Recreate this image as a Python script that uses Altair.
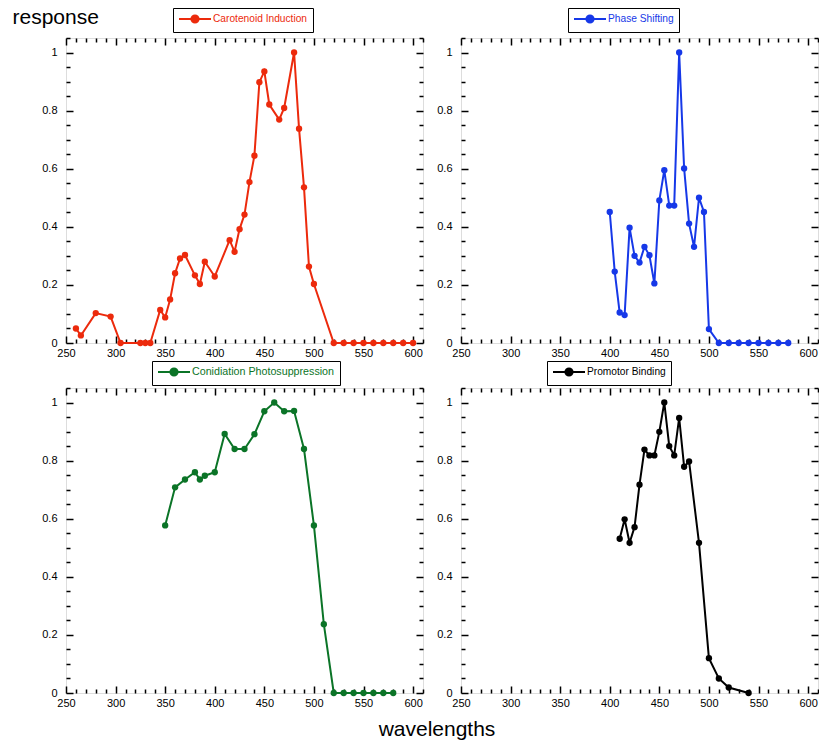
import altair as alt
import pandas as pd

# ---------------- data ----------------
caro_wl = [260, 265, 280, 295, 305, 325, 330, 335, 345, 350, 355, 360, 365, 370,
           380, 385, 390, 400, 415, 420, 425, 430, 435, 440, 445, 450, 455, 465,
           470, 480, 485, 490, 495, 500, 520, 530, 540, 550, 560, 570, 580, 590, 600]
caro_resp = [0.05, 0.026, 0.103, 0.091, 0.0, 0.0, 0.0, 0.0, 0.114, 0.088, 0.15, 0.24,
             0.291, 0.303, 0.233, 0.203, 0.28, 0.229, 0.354, 0.314, 0.392, 0.442,
             0.554, 0.645, 0.898, 0.935, 0.821, 0.769, 0.809, 1.0, 0.738, 0.536,
             0.263, 0.203, 0.0, 0.0, 0.0, 0.0, 0.0, 0.0, 0.0, 0.0, 0.0]

phase_wl = [400, 405, 410, 415, 420, 425, 430, 435, 440, 445, 450, 455, 460, 465,
            470, 475, 480, 485, 490, 495, 500, 510, 520, 530, 540, 550, 560, 570, 580]
phase_resp = [0.451, 0.246, 0.105, 0.096, 0.397, 0.300, 0.277, 0.331, 0.302, 0.205,
              0.491, 0.595, 0.473, 0.473, 1.0, 0.601, 0.411, 0.331, 0.50, 0.451,
              0.048, 0.0, 0.0, 0.0, 0.0, 0.0, 0.0, 0.0, 0.0]

conid_wl = [350, 360, 370, 380, 385, 390, 400, 410, 420, 430, 440, 450, 460, 470,
            480, 490, 500, 510, 520, 530, 540, 550, 560, 570, 580]
conid_resp = [0.577, 0.708, 0.735, 0.76, 0.735, 0.748, 0.76, 0.892, 0.84, 0.84,
              0.891, 0.97, 1.0, 0.97, 0.971, 0.84, 0.577, 0.237, 0.0, 0.0, 0.0,
              0.0, 0.0, 0.0, 0.0]

promo_wl = [410, 415, 420, 425, 430, 435, 440, 445, 450, 455, 460, 465, 470, 475,
            480, 490, 500, 510, 520, 540]
promo_resp = [0.531, 0.598, 0.517, 0.571, 0.717, 0.838, 0.818, 0.818, 0.899, 1.0,
              0.85, 0.818, 0.947, 0.779, 0.797, 0.517, 0.12, 0.05, 0.019, 0.0]

series_names = ["Carotenoid Induction", "Phase Shifting",
                "Conidiation Photosuppression", "Promotor Binding"]
series_colors = ["#ec2a0c", "#1638e8", "#0b7427", "#000000"]

x_ticks = list(range(250, 611, 10))
y_ticks = [round(i * 0.05, 2) for i in range(22)]

# ---------------- layout constants ----------------
W, H = 357, 305
FONT = "Liberation Sans"
MAJ, MIN = 7, 4

x_axis = alt.Axis(
    values=x_ticks, ticks=False, domain=False, grid=True,
    gridColor="black", gridWidth=1.5, gridOpacity=1,
    gridDash={"condition": {"test": "datum.value % 50 === 0", "value": [MAJ, H - 2 * MAJ]},
              "value": [MIN, H - 2 * MIN]},
    labelExpr="datum.value % 50 === 0 ? datum.label : ''",
    format="d", labelFont=FONT, labelFontSize=11, labelColor="black",
    labelPadding=4, labelFlush=False, labelOverlap=False, title=None,
)
ytest = "abs(datum.value * 5 - round(datum.value * 5)) < 0.001"


def y_axis(title=None):
    kw = dict(
        values=y_ticks, ticks=False, domain=False, grid=True,
        gridColor="black", gridWidth=1.5, gridOpacity=1,
        gridDash={"condition": {"test": ytest, "value": [MAJ, W - 2 * MAJ]},
                  "value": [MIN, W - 2 * MIN]},
        labelExpr=ytest + " ? format(datum.value, '~g') : ''",
        labelFont=FONT, labelFontSize=11, labelColor="black",
        labelPadding=9, labelFlush=False, labelOverlap=False,
    )
    if title:
        kw.update(title=title, titleAngle=0, titleX=-54, titleY=-15,
                  titleAlign="left", titleBaseline="alphabetic", titleFont=FONT,
                  titleFontSize=21, titleFontWeight="normal", titleColor="black")
    else:
        kw["title"] = None
    return alt.Axis(**kw)


SYM = ("M-3.2,0H3.2M0.72,0A0.72,0.72,0,1,1,-0.72,0"
       "A0.72,0.72,0,1,1,0.72,0Z")


def panel(wl, resp, name, color, lx, ly, fs, ytitle=None):
    df = pd.DataFrame({"wavelength": wl, "response": resp, "series": name})
    base = alt.Chart(df).encode(
        x=alt.X("wavelength:Q", scale=alt.Scale(domain=[250, 610], nice=False, zero=False),
                axis=x_axis),
        y=alt.Y("response:Q", scale=alt.Scale(domain=[0, 1.05], nice=False),
                axis=y_axis(ytitle)),
    )
    line = base.mark_line(color=color, strokeWidth=2)
    pts = base.mark_point(filled=True, size=40, opacity=1).encode(
        color=alt.Color(
            "series:N",
            scale=alt.Scale(domain=[name], range=[color]),
            legend=alt.Legend(
                orient="none", legendX=lx, legendY=ly, title=None,
                symbolType=SYM, symbolSize=100, symbolStrokeWidth=2,
                symbolFillColor=color, symbolStrokeColor=color, symbolOffset=11,
                labelOffset=12, labelColor=color, labelFont=FONT, labelFontSize=fs,
                strokeColor="black", padding=5, fillColor="white",
            ),
        )
    )
    return alt.layer(line, pts).properties(width=W, height=H)


p1 = panel(caro_wl, caro_resp, series_names[0], series_colors[0], 107, -30, 10.2, "response")
p2 = panel(phase_wl, phase_resp, series_names[1], series_colors[1], 107, -30, 10.2)
p3 = panel(conid_wl, conid_resp, series_names[2], series_colors[2], 86, -27, 10.7)
p4 = panel(promo_wl, promo_resp, series_names[3], series_colors[3], 86, -27, 10.2)

chart = alt.concat(
    p1, p2, p3, p4, columns=2, bounds="flush",
    spacing=alt.RowColnumber(row=45, column=38),
).resolve_scale(color="independent").properties(
    title=alt.TitleParams("wavelengths", orient="bottom", anchor="middle", font=FONT,
                          fontSize=21, fontWeight="normal", color="black", offset=10,
                          dx=22),
    padding={"left": 11, "top": 5, "right": 0, "bottom": 0},
).configure_view(stroke="black", strokeWidth=2).configure_legend(
    strokeWidth=2
).configure(background="white")

chart.save("out.html", embed_options={"renderer": "svg", "actions": False})
